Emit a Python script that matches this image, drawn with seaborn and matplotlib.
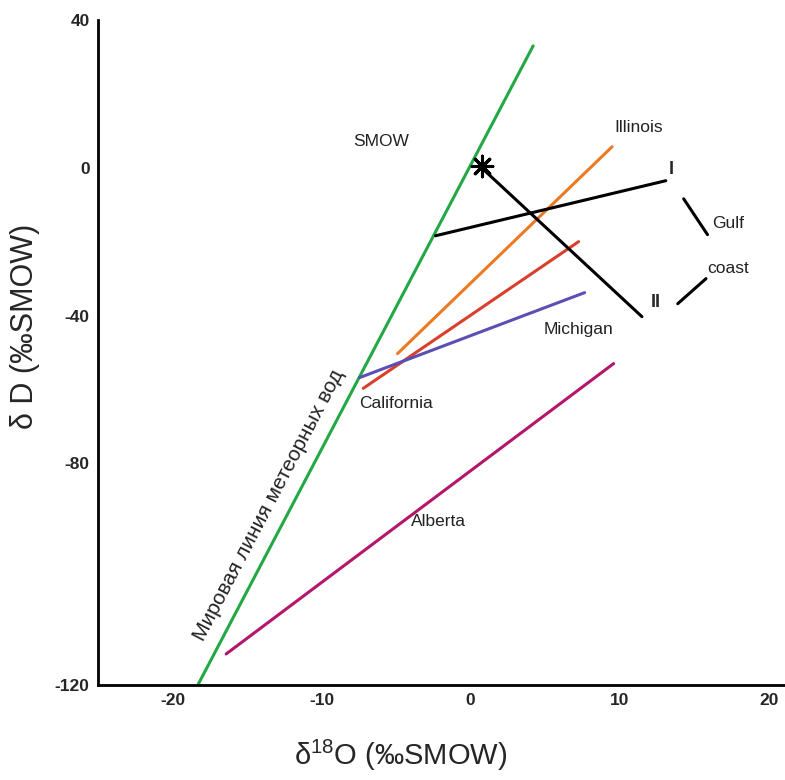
import matplotlib
matplotlib.use("Agg")
import matplotlib.pyplot as plt
import seaborn as sns
import numpy as np

sns.set_theme(style="white")
plt.rcParams['font.family'] = ['Liberation Sans', 'DejaVu Sans']
plt.rcParams['mathtext.fontset'] = 'custom'
plt.rcParams['mathtext.rm'] = 'Liberation Sans'
plt.rcParams['axes.unicode_minus'] = False

# ---- data ----
gmwl_x = [-18.3, 4.2]
gmwl_y = [-140.0, 33.0]

illinois_x = [-4.9, 9.5]
illinois_y = [-50.3, 5.7]

california_x = [-7.2, 7.25]
california_y = [-59.7, -20.0]

michigan_x = [-7.45, 7.65]
michigan_y = [-56.8, -33.8]

alberta_x = [-16.4, 9.6]
alberta_y = [-131.6, -53.0]

gulf1_x = [-2.35, 13.1]
gulf1_y = [-18.4, -3.5]

gulf2_x = [0.74, 11.5]
gulf2_y = [0.0, -40.3]

smow_x = [0.74]
smow_y = [0.6]

bracket1_x = [14.3, 15.9]
bracket1_y = [-8.4, -18.1]
bracket2_x = [15.8, 13.9]
bracket2_y = [-30.0, -36.8]

yticks = [40, 0, -40, -80, -140]
ytick_labels = ["40", "0", "-40", "-80", "-120"]
yminor = [20, -20, -60, -100, -120]
xticks = [-20, -10, 0, 10, 20]
xtick_labels = ["-20", "-10", "0", "10", "20"]
xminor = [-15, -5, 5, 15]

fig = plt.figure(figsize=(7.85, 7.8), dpi=100)
ax = fig.add_axes([98/785, 95/780, 687/785, 665/780])

lw = 2.2
sns.lineplot(x=gmwl_x, y=gmwl_y, color="#22a845", lw=lw, ax=ax, sort=False)
sns.lineplot(x=illinois_x, y=illinois_y, color="#ec7a23", lw=lw, ax=ax, sort=False)
sns.lineplot(x=california_x, y=california_y, color="#d8402c", lw=lw, ax=ax, sort=False)
sns.lineplot(x=michigan_x, y=michigan_y, color="#5a4fb3", lw=lw, ax=ax, sort=False)
sns.lineplot(x=alberta_x, y=alberta_y, color="#b3166b", lw=lw, ax=ax, sort=False)
sns.lineplot(x=gulf1_x, y=gulf1_y, color="black", lw=lw, ax=ax, sort=False)
sns.lineplot(x=gulf2_x, y=gulf2_y, color="black", lw=lw, ax=ax, sort=False)
sns.lineplot(x=bracket1_x, y=bracket1_y, color="black", lw=lw, ax=ax, sort=False)
sns.lineplot(x=bracket2_x, y=bracket2_y, color="black", lw=lw, ax=ax, sort=False)
sns.scatterplot(x=smow_x, y=smow_y, marker=(8, 2, 0), s=220, color="black",
                linewidth=2.2, ax=ax, zorder=5)

ax.set_xlim(-25, 21.1)
ax.set_ylim(-140, 40)

ax.set_xticks(xticks)
ax.set_xticklabels(xtick_labels)
ax.set_xticks(xminor, minor=True)
ax.set_yticks(yticks)
ax.set_yticklabels(ytick_labels)
ax.set_yticks(yminor, minor=True)

for s in ["top", "right"]:
    ax.spines[s].set_visible(False)
for s in ["left", "bottom"]:
    ax.spines[s].set_color("black")
    ax.spines[s].set_linewidth(2)

ax.tick_params(axis="both", which="major", direction="in", length=15, width=2,
               color="black", labelsize=12.5, pad=6)
ax.tick_params(axis="both", which="minor", direction="in", length=10, width=2,
               color="black")
for lab in ax.get_xticklabels() + ax.get_yticklabels():
    lab.set_fontweight("bold")

ax.set_xlabel(r"δ$^{18}$O (‰SMOW)", fontsize=21)
ax.set_ylabel("δ D (‰SMOW)", fontsize=22)
ax.xaxis.set_label_coords(0.44, -0.08)
ax.yaxis.set_label_coords(-0.085, 0.54)

tkw = dict(fontsize=12.5, color="#222222", ha="center", va="center")
ax.text(-6.0, 7.0, "SMOW", **tkw)
ax.text(11.3, 10.8, "Illinois", **tkw)
ax.text(7.25, -43.8, "Michigan", **tkw)
ax.text(-5.0, -63.8, "California", **tkw)
ax.text(-2.15, -95.7, "Alberta", **tkw)
ax.text(17.3, -15.1, "Gulf", **tkw)
ax.text(17.3, -27.3, "coast", **tkw)
ax.text(13.5, -0.6, "I", fontsize=13, fontweight="bold", ha="center", va="center")
ax.text(12.4, -36.6, "II", fontsize=13, fontweight="bold", ha="center", va="center")
ax.text(-13.55, -91.4, "Мировая линия метеорных вод", fontsize=15, color="#222222",
        rotation=62.4, rotation_mode="anchor", ha="center", va="center")

fig.savefig("out.png", dpi=100)
